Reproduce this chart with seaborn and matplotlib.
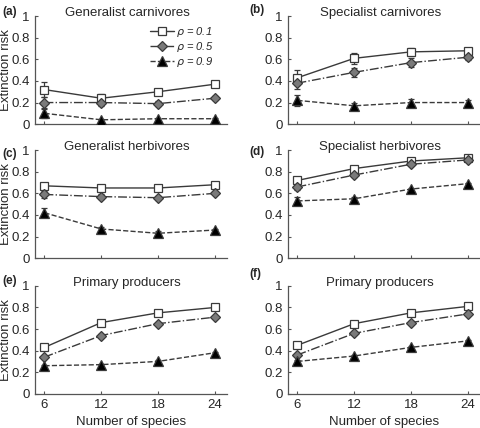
import numpy as np
import pandas as pd
import matplotlib
matplotlib.use('Agg')
import matplotlib.pyplot as plt
import seaborn as sns

species = [6, 12, 18, 24]
rhos = ['0.1', '0.5', '0.9']

panels = ['(a)', '(b)', '(c)', '(d)', '(e)', '(f)']
titles = ['Generalist carnivores', 'Specialist carnivores',
          'Generalist herbivores', 'Specialist herbivores',
          'Primary producers', 'Primary producers']

# mean extinction risk, one list per rho (0.1, 0.5, 0.9)
risk_a = [[0.32, 0.24, 0.30, 0.37], [0.20, 0.20, 0.19, 0.24], [0.10, 0.04, 0.05, 0.05]]
risk_b = [[0.43, 0.61, 0.67, 0.68], [0.38, 0.48, 0.57, 0.62], [0.22, 0.17, 0.20, 0.20]]
risk_c = [[0.67, 0.65, 0.65, 0.68], [0.59, 0.57, 0.56, 0.60], [0.42, 0.27, 0.23, 0.26]]
risk_d = [[0.72, 0.83, 0.90, 0.93], [0.66, 0.77, 0.87, 0.91], [0.53, 0.55, 0.64, 0.69]]
risk_e = [[0.43, 0.66, 0.75, 0.80], [0.34, 0.54, 0.65, 0.71], [0.26, 0.27, 0.30, 0.38]]
risk_f = [[0.45, 0.65, 0.75, 0.81], [0.36, 0.56, 0.66, 0.74], [0.30, 0.35, 0.43, 0.49]]

# error bar half-widths
err_a = [[0.07, 0.04, 0.03, 0.03], [0.05, 0.03, 0.02, 0.02], [0.04, 0.01, 0.01, 0.01]]
err_b = [[0.07, 0.05, 0.04, 0.03], [0.05, 0.04, 0.04, 0.03], [0.05, 0.03, 0.03, 0.02]]
err_c = [[0.03, 0.02, 0.01, 0.01], [0.03, 0.02, 0.02, 0.01], [0.04, 0.02, 0.02, 0.01]]
err_d = [[0.03, 0.01, 0.01, 0.01], [0.03, 0.02, 0.02, 0.01], [0.04, 0.02, 0.01, 0.01]]
err_e = [[0.01, 0.01, 0.01, 0.01], [0.01, 0.01, 0.01, 0.01], [0.01, 0.01, 0.01, 0.01]]
err_f = [[0.01, 0.01, 0.01, 0.01], [0.01, 0.01, 0.01, 0.01], [0.01, 0.01, 0.01, 0.01]]

risks = [risk_a, risk_b, risk_c, risk_d, risk_e, risk_f]
errs = [err_a, err_b, err_c, err_d, err_e, err_f]

sns.set_style('ticks')
plt.rcParams['font.family'] = ['Liberation Sans', 'DejaVu Sans']

line_col = '#3a3a3a'
styles = {
    '0.1': dict(marker='s', linestyle='-', mfc='white', ms=6),
    '0.5': dict(marker='D', linestyle='-.', mfc='#7a7a7a', ms=5.5),
    '0.9': dict(marker='^', linestyle='--', mfc='black', ms=6.5),
}

fig = plt.figure(figsize=(4.8, 4.28), dpi=100)
lefts = [0.073, 0.600]
bottoms = [0.710, 0.397, 0.080]
w, h = 0.400, 0.252

label_pos = [(0.005, 0.985), (0.520, 0.990), (0.005, 0.655), (0.520, 0.660),
             (0.005, 0.358), (0.520, 0.375)]

for i in range(6):
    row, col = divmod(i, 2)
    ax = fig.add_axes([lefts[col], bottoms[row], w, h])
    df = pd.DataFrame({
        'n': np.tile(species, 3),
        'risk': np.concatenate(risks[i]),
        'err': np.concatenate(errs[i]),
        'rho': np.repeat(rhos, 4),
    })
    for rho in rhos:
        sub = df[df['rho'] == rho]
        st = styles[rho]
        ax.errorbar(sub['n'], sub['risk'], yerr=sub['err'], fmt='none',
                    ecolor=line_col, elinewidth=0.9, capsize=2, capthick=0.9, zorder=2)
        sns.lineplot(data=sub, x='n', y='risk', ax=ax, color=line_col,
                     linestyle=st['linestyle'], linewidth=1.0,
                     marker=st['marker'], markersize=st['ms'],
                     markerfacecolor=st['mfc'], markeredgecolor=line_col,
                     markeredgewidth=0.9, label=r'$\rho$ = ' + rho, zorder=3,
                     legend=(i == 0))
    ax.set_xlim(5, 25.3)
    ax.set_ylim(0, 1)
    ax.set_xticks(species)
    ax.set_yticks([0, 0.2, 0.4, 0.6, 0.8, 1])
    ax.set_yticklabels(['0', '0.2', '0.4', '0.6', '0.8', '1'])
    sns.despine(ax=ax)
    for sp in ['left', 'bottom']:
        ax.spines[sp].set_color('#555555')
        ax.spines[sp].set_linewidth(0.9)
    ax.tick_params(axis='both', labelsize=9.5, length=2.5, width=0.8,
                   color='#555555', direction='in', pad=4)
    ax.set_xlabel('Number of species' if row == 2 else '', fontsize=9.5)
    ax.set_ylabel('Extinction risk' if col == 0 else '', fontsize=9.5)
    ax.yaxis.set_label_coords(-0.12, 0.5)
    ax.xaxis.set_label_coords(0.5, -0.21)
    if row != 2:
        ax.set_xticklabels([])
    ax.text(0.48, 1.03, titles[i], transform=ax.transAxes, ha='center',
            va='center', fontsize=9.5)
    fig.text(label_pos[i][0], label_pos[i][1], panels[i], fontsize=8.5,
             fontweight='bold', va='top', ha='left')
    if i == 0:
        leg = ax.legend(loc='upper right', frameon=False, fontsize=8,
                        handlelength=2.1, handletextpad=0.2, labelspacing=0.1,
                        borderaxespad=0.0, bbox_to_anchor=(0.95, 0.96))
        for t in leg.get_texts():
            t.set_fontstyle('italic')

fig.savefig('out.png', dpi=100)
